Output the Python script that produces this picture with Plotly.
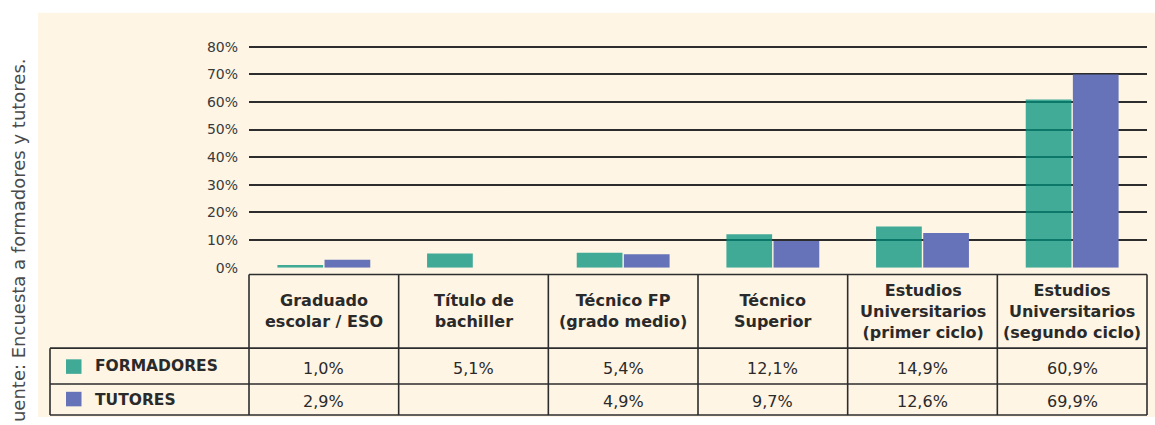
import plotly.graph_objects as go

# ---------------- data ----------------
categories = [
    "Graduado escolar / ESO",
    "Título de bachiller",
    "Técnico FP (grado medio)",
    "Técnico Superior",
    "Estudios Universitarios (primer ciclo)",
    "Estudios Universitarios (segundo ciclo)",
]
header_labels = [
    "Graduado<br>escolar / ESO",
    "Título de<br>bachiller",
    "Técnico FP<br>(grado medio)",
    "Técnico<br>Superior",
    "Estudios<br>Universitarios<br>(primer ciclo)",
    "Estudios<br>Universitarios<br>(segundo ciclo)",
]
formadores = [1.0, 5.1, 5.4, 12.1, 14.9, 60.9]
tutores = [2.9, None, 4.9, 9.7, 12.6, 69.9]
series_names = ["FORMADORES", "TUTORES"]
y_ticks = [0, 10, 20, 30, 40, 50, 60, 70, 80]
source_text = "uente: Encuesta a formadores y tutores."

# ---------------- style ----------------
W, H = 1155, 425
CREAM = "#FEF5E5"
GREEN_BASE = "rgb(1,145,125)"   # drawn at 0.75 opacity -> appears #40AA97 on cream
GREEN_SWATCH = "#40AA97"
BLUE = "#6673B8"
LINE = "#2d2d2d"
TEXT = "#2a2a2a"
FONT = "DejaVu Sans"


def px(x):
    return x / W


def py(y):
    return 1 - y / H


x_left, x_right = 249, 1147
y_zero, y_80 = 271, 43
unit = (y_zero - y_80) / 80.0
y_max = 81
y_top = y_zero - y_max * unit

fig = go.Figure()
fig.add_trace(go.Bar(x=categories, y=formadores, name=series_names[0],
                     marker=dict(color=GREEN_BASE, line=dict(width=0)), opacity=0.75))
fig.add_trace(go.Bar(x=categories, y=tutores, name=series_names[1],
                     marker=dict(color=BLUE, line=dict(width=0))))

shapes = []
# cream background panel
shapes.append(dict(type="rect", xref="paper", yref="paper", x0=px(38), x1=1.0,
                   y0=0, y1=py(8), fillcolor=CREAM, line=dict(width=0), layer="below"))

# table grid
n = len(categories)
colw = (x_right - x_left) / n
y_head_top, y_row1, y_row2, y_bot = 278, 354, 391, 423
lw = 1.6
for i in range(n + 1):
    xv = x_left + i * colw
    shapes.append(dict(type="line", xref="paper", yref="paper", x0=px(xv), x1=px(xv),
                       y0=py(y_head_top), y1=py(y_bot), line=dict(color=LINE, width=lw)))
shapes.append(dict(type="line", xref="paper", yref="paper", x0=px(x_left), x1=px(x_right),
                   y0=py(y_head_top), y1=py(y_head_top), line=dict(color=LINE, width=lw)))
for yv in (y_row1, y_row2, y_bot):
    shapes.append(dict(type="line", xref="paper", yref="paper", x0=px(50), x1=px(x_right),
                       y0=py(yv), y1=py(yv), line=dict(color=LINE, width=lw)))
shapes.append(dict(type="line", xref="paper", yref="paper", x0=px(50), x1=px(50),
                   y0=py(y_row1), y1=py(y_bot), line=dict(color=LINE, width=lw)))

# legend swatches in the row-label cells
swatch_colors = [GREEN_SWATCH, BLUE]
row_centers = [373, 406.5]
for c, yc in zip(swatch_colors, row_centers):
    shapes.append(dict(type="rect", xref="paper", yref="paper", x0=px(66), x1=px(81.5),
                       y0=py(yc - 7.5), y1=py(yc + 7.5), fillcolor=c, line=dict(width=0)))

annotations = []
# column headers
for cat, lab in zip(categories, header_labels):
    annotations.append(dict(x=cat, xref="x", y=py(316), yref="paper", text=lab,
                            showarrow=False, xanchor="center", yanchor="middle",
                            font=dict(family=FONT, size=16, color=TEXT, weight="bold")))


def fmt(v):
    return "" if v is None else f"{v:.1f}%".replace(".", ",")


for series, yc in zip([formadores, tutores], [375, 409]):
    for cat, v in zip(categories, series):
        if v is None:
            continue
        annotations.append(dict(x=cat, xref="x", y=py(yc), yref="paper", text=fmt(v),
                                showarrow=False, xanchor="center", yanchor="middle",
                                font=dict(family=FONT, size=16, color=TEXT)))

# row labels
for name, yc in zip(series_names, [372.5, 407]):
    annotations.append(dict(x=px(93), xref="paper", y=py(yc), yref="paper", text=name,
                            showarrow=False, xanchor="left", yanchor="middle",
                            font=dict(family=FONT, size=15.5, color=TEXT, weight="bold")))

# rotated source note along the left edge
annotations.append(dict(x=px(18.5), xref="paper", y=py(243), yref="paper", text=source_text,
                        showarrow=False, textangle=-90, xanchor="center", yanchor="middle",
                        font=dict(family=FONT, size=18, color="#4a4a4a")))

fig.update_layout(
    width=W, height=H,
    margin=dict(l=0, r=0, t=0, b=0),
    paper_bgcolor="white",
    plot_bgcolor="rgba(0,0,0,0)",
    barmode="group",
    bargap=0.37,
    bargroupgap=0.03,
    showlegend=False,
    shapes=shapes,
    annotations=annotations,
    xaxis=dict(domain=[px(x_left), px(x_right)], showticklabels=False, showgrid=False,
               zeroline=False, showline=False, ticks="", fixedrange=True),
    yaxis=dict(domain=[py(y_zero), py(y_top)], range=[0, y_max], tickvals=y_ticks,
               ticktext=[f"{v}%" for v in y_ticks], showgrid=True, gridcolor=LINE,
               gridwidth=1.6, zeroline=False, showline=False, ticks="",
               ticklabelstandoff=10,
               tickfont=dict(family=FONT, size=14, color="#3a3a3a"), fixedrange=True),
)

fig.write_html("out.html", config={"displayModeBar": False},
               post_script="document.body.style.margin='0';"
                           "document.body.style.overflow='hidden';"
                           "document.documentElement.style.overflow='hidden';")
